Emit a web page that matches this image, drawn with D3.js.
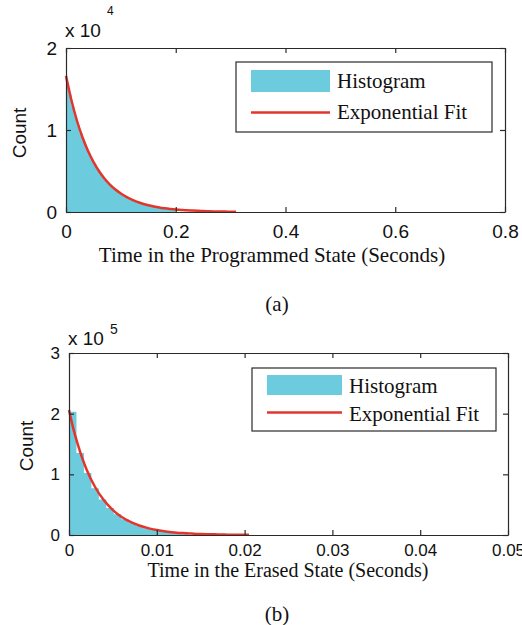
<!DOCTYPE html>
<html><head><meta charset="utf-8">
<script src="https://cdn.jsdelivr.net/npm/d3@7"></script>
<style>body{margin:0;background:#fff}svg{display:block}</style>
</head><body>
<script>
// ---------- data ----------
// Panel (a): programmed state
const xTicksA = [0, 0.2, 0.4, 0.6, 0.8];
const xTickLabelsA = ["0", "0.2", "0.4", "0.6", "0.8"];
const yTicksA = [0, 10000, 20000];
const yTickLabelsA = ["0", "1", "2"];
const binWidthA = 0.005;
const histCountsA = [15790, 14290, 12930, 11700, 10580, 9580, 8660, 7840, 7090, 6420,
  5810, 5250, 4750, 4300, 3890, 3520, 3190, 2880, 2610, 2360,
  2140, 1930, 1750, 1580, 1430, 1300, 1170, 1060, 960, 870,
  790, 710, 640, 580, 530, 480, 430, 390, 350, 320];
const fitTimeA = [0, 0.01, 0.02, 0.03, 0.04, 0.05, 0.06, 0.07, 0.08, 0.09, 0.10, 0.11, 0.12, 0.13,
  0.14, 0.15, 0.16, 0.17, 0.18, 0.19, 0.20, 0.21, 0.22, 0.23, 0.24, 0.25, 0.26, 0.27, 0.28, 0.29, 0.30, 0.31];
const fitCountA = [16600, 13590, 11130, 9110, 7460, 6110, 5000, 4090, 3350, 2740, 2250, 1840, 1510, 1230,
  1010, 830, 680, 550, 450, 370, 300, 250, 200, 170, 140, 110, 90, 70, 60, 50, 40, 30];

// Panel (b): erased state
const xTicksB = [0, 0.01, 0.02, 0.03, 0.04, 0.05];
const xTickLabelsB = ["0", "0.01", "0.02", "0.03", "0.04", "0.05"];
const yTicksB = [0, 100000, 200000, 300000];
const yTickLabelsB = ["0", "1", "2", "3"];
const binWidthB = 0.00085;
const histCountsB = [203000, 135000, 102000, 77000, 58500, 44500, 34000, 25800, 19600, 14900,
  11300, 8600, 6500, 5000, 3700, 2800];
const fitTimeB = [0, 0.0005, 0.001, 0.0015, 0.002, 0.003, 0.004, 0.005, 0.006, 0.007, 0.008, 0.009, 0.010,
  0.011, 0.012, 0.013, 0.014, 0.015, 0.016, 0.017, 0.018, 0.019, 0.020, 0.0205];
const fitCountB = [206000, 175000, 149200, 127000, 108100, 78300, 56700, 41100, 29700, 21500, 15600, 11300, 8200,
  5900, 4300, 3100, 2300, 1600, 1200, 900, 600, 500, 300, 300];

const legendLabels = ["Histogram", "Exponential Fit"];
// ---------- layout / style ----------
const W = 522, H = 625;
const histColor = "#6ccbdc", fitColor = "#e2362c", axisColor = "#2a2a2a";
const sans = "'Liberation Sans', Arial, sans-serif";
const serif = "'Liberation Serif', 'Times New Roman', serif";

const svg = d3.select("body").append("svg").attr("width", W).attr("height", H);

function panel(cfg) {
  const x = d3.scaleLinear().domain([cfg.xTicks[0], cfg.xTicks[cfg.xTicks.length - 1]]).range([cfg.left, cfg.right]);
  const y = d3.scaleLinear().domain([cfg.yTicks[0], cfg.yTicks[cfg.yTicks.length - 1]]).range([cfg.bottom, cfg.top]);
  const g = svg.append("g");

  // histogram as a stepped area (bins of width binWidth starting at 0)
  const steps = cfg.hist.map((c, i) => [i * cfg.binWidth, c]);
  steps.push([cfg.hist.length * cfg.binWidth, cfg.hist[cfg.hist.length - 1]]);
  const area = d3.area().x(d => x(d[0])).y0(y(0)).y1(d => y(d[1])).curve(d3.curveStepAfter);
  g.append("path").datum(steps).attr("d", area).attr("fill", histColor);

  // fit line
  const line = d3.line().x(d => x(d[0])).y(d => y(d[1])).curve(d3.curveMonotoneX);
  g.append("path").datum(cfg.fitT.map((t, i) => [t, cfg.fitC[i]]))
    .attr("d", line).attr("fill", "none").attr("stroke", fitColor).attr("stroke-width", 2.5);

  // axes (inward ticks, MATLAB style)
  const xLab = new Map(cfg.xTicks.map((v, i) => [v, cfg.xLabels[i]]));
  const yLab = new Map(cfg.yTicks.map((v, i) => [v, cfg.yLabels[i]]));
  g.append("g").attr("transform", `translate(0,${cfg.bottom})`)
    .call(d3.axisBottom(x).tickValues(cfg.xTicks).tickFormat(v => xLab.get(v)).tickSizeInner(-5).tickSizeOuter(0).tickPadding(cfg.xPad));
  g.append("g").attr("transform", `translate(0,${cfg.top})`)
    .call(d3.axisTop(x).tickValues(cfg.xTicks).tickFormat("").tickSizeInner(-5).tickSizeOuter(0));
  g.append("g").attr("transform", `translate(${cfg.left},0)`)
    .call(d3.axisLeft(y).tickValues(cfg.yTicks).tickFormat(v => yLab.get(v)).tickSizeInner(-5).tickSizeOuter(0).tickPadding(9));
  g.append("g").attr("transform", `translate(${cfg.right},0)`)
    .call(d3.axisRight(y).tickValues(cfg.yTicks).tickFormat("").tickSizeInner(-5).tickSizeOuter(0));
  g.selectAll(".domain, .tick line").attr("stroke", axisColor).attr("stroke-width", 1.2);
  g.selectAll(".tick text").attr("font-family", sans).attr("font-size", cfg.tickSize).attr("fill", "#111");

  // exponent label
  g.append("text").attr("x", cfg.left - 1).attr("y", cfg.expY).attr("font-family", sans)
    .attr("font-size", 19).attr("fill", "#111").text("x 10");
  g.append("text").attr("x", cfg.left + 41).attr("y", cfg.supY).attr("font-family", sans)
    .attr("font-size", cfg.supSize).attr("fill", "#111").text(cfg.exp);

  // y label
  g.append("text").attr("transform", `translate(${cfg.yLabX},${(cfg.top + cfg.bottom) / 2 + cfg.yLabDy}) rotate(-90)`)
    .attr("text-anchor", "middle").attr("font-family", sans).attr("font-size", 19).attr("fill", "#111").text("Count");

  // x label & caption
  g.append("text").attr("x", cfg.xLabelX).attr("y", cfg.xLabelY).attr("text-anchor", "middle")
    .attr("font-family", serif).attr("font-size", cfg.xLabelSize).attr("fill", "#111").text(cfg.xLabel);
  g.append("text").attr("x", 277).attr("y", cfg.capY).attr("text-anchor", "middle")
    .attr("font-family", serif).attr("font-size", 21).attr("fill", "#111").text(cfg.caption);

  // legend
  const L = cfg.legend;
  g.append("rect").attr("x", L.x0).attr("y", L.y0).attr("width", L.x1 - L.x0).attr("height", L.y1 - L.y0)
    .attr("fill", "#fff").attr("stroke", axisColor).attr("stroke-width", 1.2);
  g.append("rect").attr("x", L.px0).attr("y", L.py0).attr("width", L.px1 - L.px0).attr("height", L.py1 - L.py0).attr("fill", histColor);
  g.append("line").attr("x1", L.px0).attr("x2", L.px1).attr("y1", L.ly).attr("y2", L.ly)
    .attr("stroke", fitColor).attr("stroke-width", 2.5);
  g.append("text").attr("x", L.tx).attr("y", L.t1).attr("font-family", serif).attr("font-size", 21).attr("fill", "#111").text(legendLabels[0]);
  g.append("text").attr("x", L.tx).attr("y", L.t2).attr("font-family", serif).attr("font-size", 21).attr("fill", "#111").text(legendLabels[1]);
}

panel({
  left: 66, right: 505, top: 48, bottom: 212, xPad: 13, tickSize: 19,
  xTicks: xTicksA, xLabels: xTickLabelsA, yTicks: yTicksA, yLabels: yTickLabelsA,
  binWidth: binWidthA, hist: histCountsA, fitT: fitTimeA, fitC: fitCountA,
  expY: 37, supY: 15, supSize: 12, exp: "4",
  yLabX: 26, yLabDy: 3,
  xLabel: "Time in the Programmed State (Seconds)", xLabelX: 272, xLabelY: 262, xLabelSize: 21,
  caption: "(a)", capY: 311,
  legend: {x0: 236, x1: 492, y0: 62, y1: 132, px0: 251, px1: 330, py0: 70, py1: 92, ly: 112.5, tx: 337, t1: 88, t2: 119}
});
panel({
  left: 69, right: 508, top: 353, bottom: 535, xPad: 9, tickSize: 17,
  xTicks: xTicksB, xLabels: xTickLabelsB, yTicks: yTicksB, yLabels: yTickLabelsB,
  binWidth: binWidthB, hist: histCountsB, fitT: fitTimeB, fitC: fitCountB,
  expY: 345, supY: 334, supSize: 14, exp: "5",
  yLabX: 33, yLabDy: 2,
  xLabel: "Time in  the Erased State (Seconds)", xLabelX: 288, xLabelY: 577, xLabelSize: 20,
  caption: "(b)", capY: 621,
  legend: {x0: 252, x1: 496, y0: 368, y1: 431, px0: 267, px1: 342, py0: 375, py1: 395, ly: 412.5, tx: 349, t1: 393, t2: 421}
});
</script>
</body></html>
